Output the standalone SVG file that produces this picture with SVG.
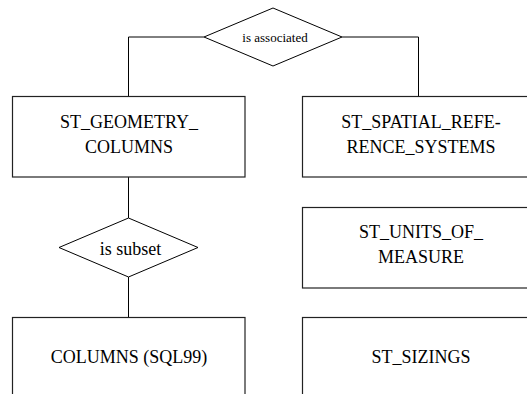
<svg xmlns="http://www.w3.org/2000/svg" width="527" height="394" viewBox="0 0 527 394">
<style>
.box{fill:#fff;stroke:#222;stroke-width:1.2}
.dia{fill:#fff;stroke:#000;stroke-width:1}
.ln{fill:none;stroke:#000;stroke-width:1}
.t,.s{font-family:'Liberation Serif','Times New Roman',serif;fill:#000;text-anchor:middle}
.t{font-size:18px}
.s{font-size:13px}
</style>
<rect width="527" height="394" fill="#fff"/>
<g id="connectors">
<polyline class="ln" points="204,37 128.5,37 128.5,96"/>
<polyline class="ln" points="342,37 418.5,37 418.5,96"/>
<line class="ln" x1="128.5" y1="177" x2="128.5" y2="218"/>
<line class="ln" x1="128.5" y1="277" x2="128.5" y2="317"/>
</g>
<g id="is_associated">
<polygon class="dia" points="273,8 342,37 273,66 204,37"/>
<text class="s" x="275" y="41.7">is associated</text>
</g>
<g id="st_geometry_columns">
<rect class="box" x="12.5" y="96.5" width="232.5" height="80.5"/>
<text class="t" x="129" y="128.3">ST_GEOMETRY_</text>
<text class="t" x="129" y="153.3">COLUMNS</text>
</g>
<g id="st_spatial_reference_systems">
<rect class="box" x="302.5" y="96.5" width="240" height="80.5"/>
<text class="t" x="421" y="128.3">ST_SPATIAL_REFE-</text>
<text class="t" x="421" y="153.3">RENCE_SYSTEMS</text>
</g>
<g id="is_subset">
<polygon class="dia" points="128.5,218 198,247.5 128.5,277 59,247.5"/>
<text class="t" x="130.5" y="255">is subset</text>
</g>
<g id="st_units_of_measure">
<rect class="box" x="302.5" y="207.5" width="240" height="80.5"/>
<text class="t" x="421" y="238.3">ST_UNITS_OF_</text>
<text class="t" x="421" y="263.3">MEASURE</text>
</g>
<g id="columns_sql99">
<rect class="box" x="12.5" y="317.5" width="232.5" height="100"/>
<text class="t" x="129" y="363.3">COLUMNS (SQL99)</text>
</g>
<g id="st_sizings">
<rect class="box" x="302.5" y="317.5" width="240" height="100"/>
<text class="t" x="421" y="363.3">ST_SIZINGS</text>
</g>
</svg>
